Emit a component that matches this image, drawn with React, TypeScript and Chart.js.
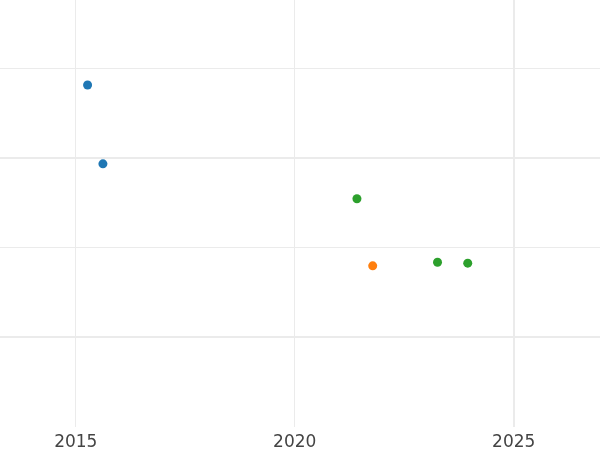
import React, { useEffect, useRef } from "react";
import { Chart, registerables } from "chart.js";

Chart.register(...registerables);

const blueX = [2015.27, 2015.62];
const blueY = [3.82, 2.94];
const orangeX = [2021.78];
const orangeY = [1.8];
const greenX = [2021.42, 2023.26, 2023.95];
const greenY = [2.55, 1.84, 1.83];
const xTicks = [2015, 2020, 2025];
const yTicks = [1, 2, 3, 4];

const toPoints = (xs: number[], ys: number[]) => xs.map((x, i) => ({ x, y: ys[i] }));

export default function App() {
  const ref = useRef<HTMLCanvasElement>(null);
  useEffect(() => {
    document.body.style.margin = "0";
    const ds = (label: string, xs: number[], ys: number[], color: string) => ({
      label,
      data: toPoints(xs, ys),
      backgroundColor: color,
      borderColor: color,
      borderWidth: 0,
      pointRadius: 4.5,
    });
    const chart = new Chart(ref.current!, {
      type: "scatter",
      data: {
        datasets: [
          ds("A", blueX, blueY, "#1f77b4"),
          ds("B", orangeX, orangeY, "#ff7f0e"),
          ds("C", greenX, greenY, "#2ca02c"),
        ],
      },
      options: {
        responsive: false,
        animation: false,
        layout: { padding: 0, autoPadding: false },
        plugins: { legend: { display: false }, tooltip: { enabled: false } },
        scales: {
          x: {
            type: "linear",
            min: 2013.27,
            max: 2026.97,
            afterBuildTicks: (s: any) => {
              s.ticks = xTicks.map((v) => ({ value: v }));
            },
            afterFit: (s: any) => {
              s.height = 23;
            },
            border: { display: false },
            grid: {
              color: "#ebebeb",
              lineWidth: (c: any) => (c.tick && c.tick.value === 2025 ? 2 : 1),
              drawTicks: false,
            },
            ticks: {
              padding: 5,
              color: "#444444",
              font: { family: "DejaVu Sans", size: 17 },
              callback: (v: any) => String(v),
              maxRotation: 0,
            },
          },
          y: {
            type: "linear",
            min: 0,
            max: 4.77,
            afterBuildTicks: (s: any) => {
              s.ticks = yTicks.map((v) => ({ value: v }));
            },
            border: { display: false },
            grid: {
              color: "#ebebeb",
              lineWidth: (c: any) => (c.tick && (c.tick.value === 1 || c.tick.value === 3) ? 2 : 1),
              drawTicks: false,
            },
            ticks: { display: false },
          },
        },
      },
    });
    return () => chart.destroy();
  }, []);
  return (
    <div style={{ position: "absolute", left: 0, top: 0, width: 600, height: 450 }}>
      <canvas ref={ref} width={600} height={450} style={{ width: 600, height: 450, display: "block" }} />
    </div>
  );
}
